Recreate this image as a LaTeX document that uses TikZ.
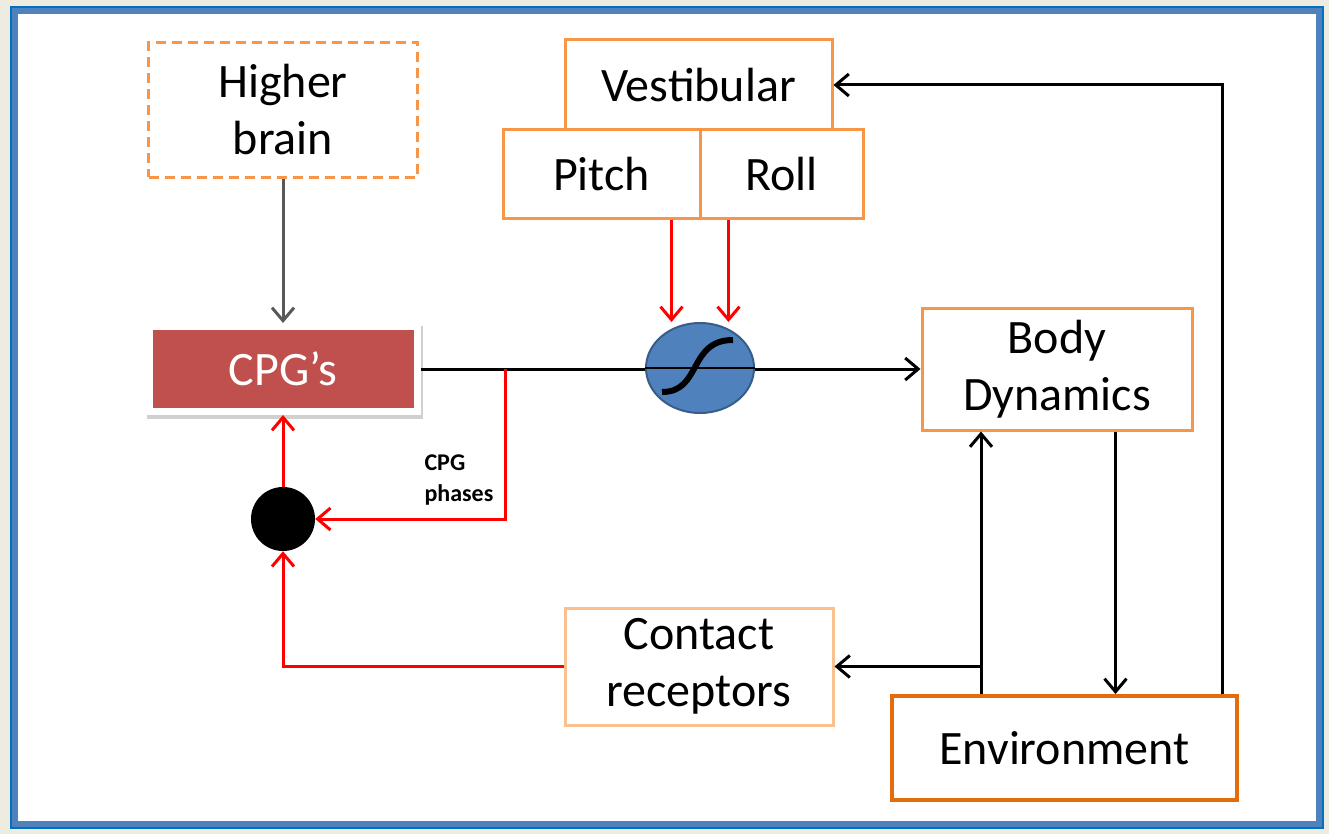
\documentclass[tikz,border=0pt]{standalone}
\usepackage{fontspec}
\setmainfont{Carlito}
\usetikzlibrary{calc,shapes.geometric,arrows.meta,shadows}
\definecolor{boxorange}{HTML}{F79646}
\definecolor{envorange}{HTML}{E46C0A}
\definecolor{contactorange}{HTML}{FAC090}
\definecolor{cpgred}{HTML}{C0504D}
\definecolor{sigblue}{HTML}{4F81BD}
\definecolor{sigedge}{HTML}{385D8A}
\definecolor{frameblue}{HTML}{4F81BD}
\definecolor{framedark}{HTML}{0070C0}
\definecolor{paper}{HTML}{EEECE1}
\definecolor{greyline}{HTML}{595959}

\begin{document}
\begin{tikzpicture}[x=1pt,y=-1pt,>={Straight Barb[length=13pt,width=22pt]},
    every node/.style={font=\fontsize{48}{57}\selectfont},
    block/.style={rectangle,draw=boxorange,line width=3pt,align=center},
    link/.style={line width=3pt},
    redlink/.style={link,draw=red}]
  % page and frame
  \fill[paper] (0,0) rectangle (1329,834);
  \draw[framedark,line width=1.5pt] (11,7) rectangle (1323,828);
  \draw[frameblue,line width=6pt,fill=white] (15,11) rectangle (1319,824);

  % boxes
  \node (brain) at (283,110) [block,dashed,dash pattern=on 10pt off 6pt,
                              minimum width=269pt,minimum height=135pt]{Higher\\brain};
  \node (vest) at (698.5,85) [block,minimum width=267pt,minimum height=90pt]{Vestibular};
  \node (pitch) at (601.5,174.5) [block,minimum width=197pt,minimum height=89pt]{Pitch};
  \node (roll) at (781.5,174.5) [block,minimum width=163pt,minimum height=89pt]{Roll};
  \node (cpg) at (283,369) [rectangle,fill=cpgred,draw=white,line width=7pt,text=white,
                            minimum width=268pt,minimum height=85pt,
                            drop shadow={draw=black!60,fill=black!60,line width=8pt,opacity=0.3,
                                         shadow xshift=2pt,shadow yshift=-3pt}]{CPG’s};
  \node (body) at (1057,369) [block,align=center,minimum width=270pt,minimum height=122pt]{Body\\Dynamics};
  \node (contact) at (699,666.5) [block,draw=contactorange,minimum width=268pt,
                                  minimum height=117pt]{Contact\\receptors};
  \node (env) at (1064.5,748) [block,draw=envorange,line width=4pt,
                               minimum width=345pt,minimum height=104pt]{Environment};
  \node (dot) at (283,519) [circle,fill=black,minimum size=64pt,inner sep=0pt]{};

  % main line through the sigmoid
  \draw[link,->] (cpg.east) -- (body.west);
  \node (sig) at (700,368) [ellipse,fill=sigblue,draw=sigedge,line width=2pt,
                            minimum width=108pt,minimum height=90pt,inner sep=0pt]{};
  \draw[line width=1.5pt] (sig.west) -- (sig.east);
  \draw[line width=6pt] ($(sig)+(-38,24)$) .. controls ($(sig)+(2,24)$) and ($(sig)+(-12,-28)$) .. ($(sig)+(33,-28)$);

  % vestibular inputs
  \coordinate (pitchout) at ($(pitch.south east)+(-30,0)$);
  \coordinate (rollout) at ($(roll.south west)+(30,0)$);
  \draw[redlink,->] (pitchout) -- (pitchout |- sig.north);
  \draw[redlink,->] (rollout) -- (rollout |- sig.north);

  % higher brain to CPG
  \draw[link,draw=greyline,->] (brain.south) -- (cpg.north);

  % CPG feedback
  \coordinate (phase) at (505,369);
  \draw[redlink,->] (phase) |- (dot.east);
  \node (phaselbl) at (421,480) [anchor=west,align=left,
                                 font=\fontsize{24}{31}\selectfont\bfseries]{CPG\\phases};
  \draw[redlink,->] (dot.north) -- (cpg.south);
  \draw[redlink,->] (contact.west) -| (dot.south);

  % body / environment loop
  \coordinate (envup) at ($(env.north west)+(91,0)$);
  \coordinate (bodydown) at ($(body.south west)+(195,0)$);
  \coordinate (envright) at ($(env.north east)+(-17,0)$);
  \draw[link,->] (envup) -- (envup |- body.south);
  \draw[link,->] (envup |- contact.east) -- (contact.east);
  \draw[link,->] (bodydown) -- (bodydown |- env.north);
  \draw[link,->] (envright) |- (vest.east);
\end{tikzpicture}
\end{document}
